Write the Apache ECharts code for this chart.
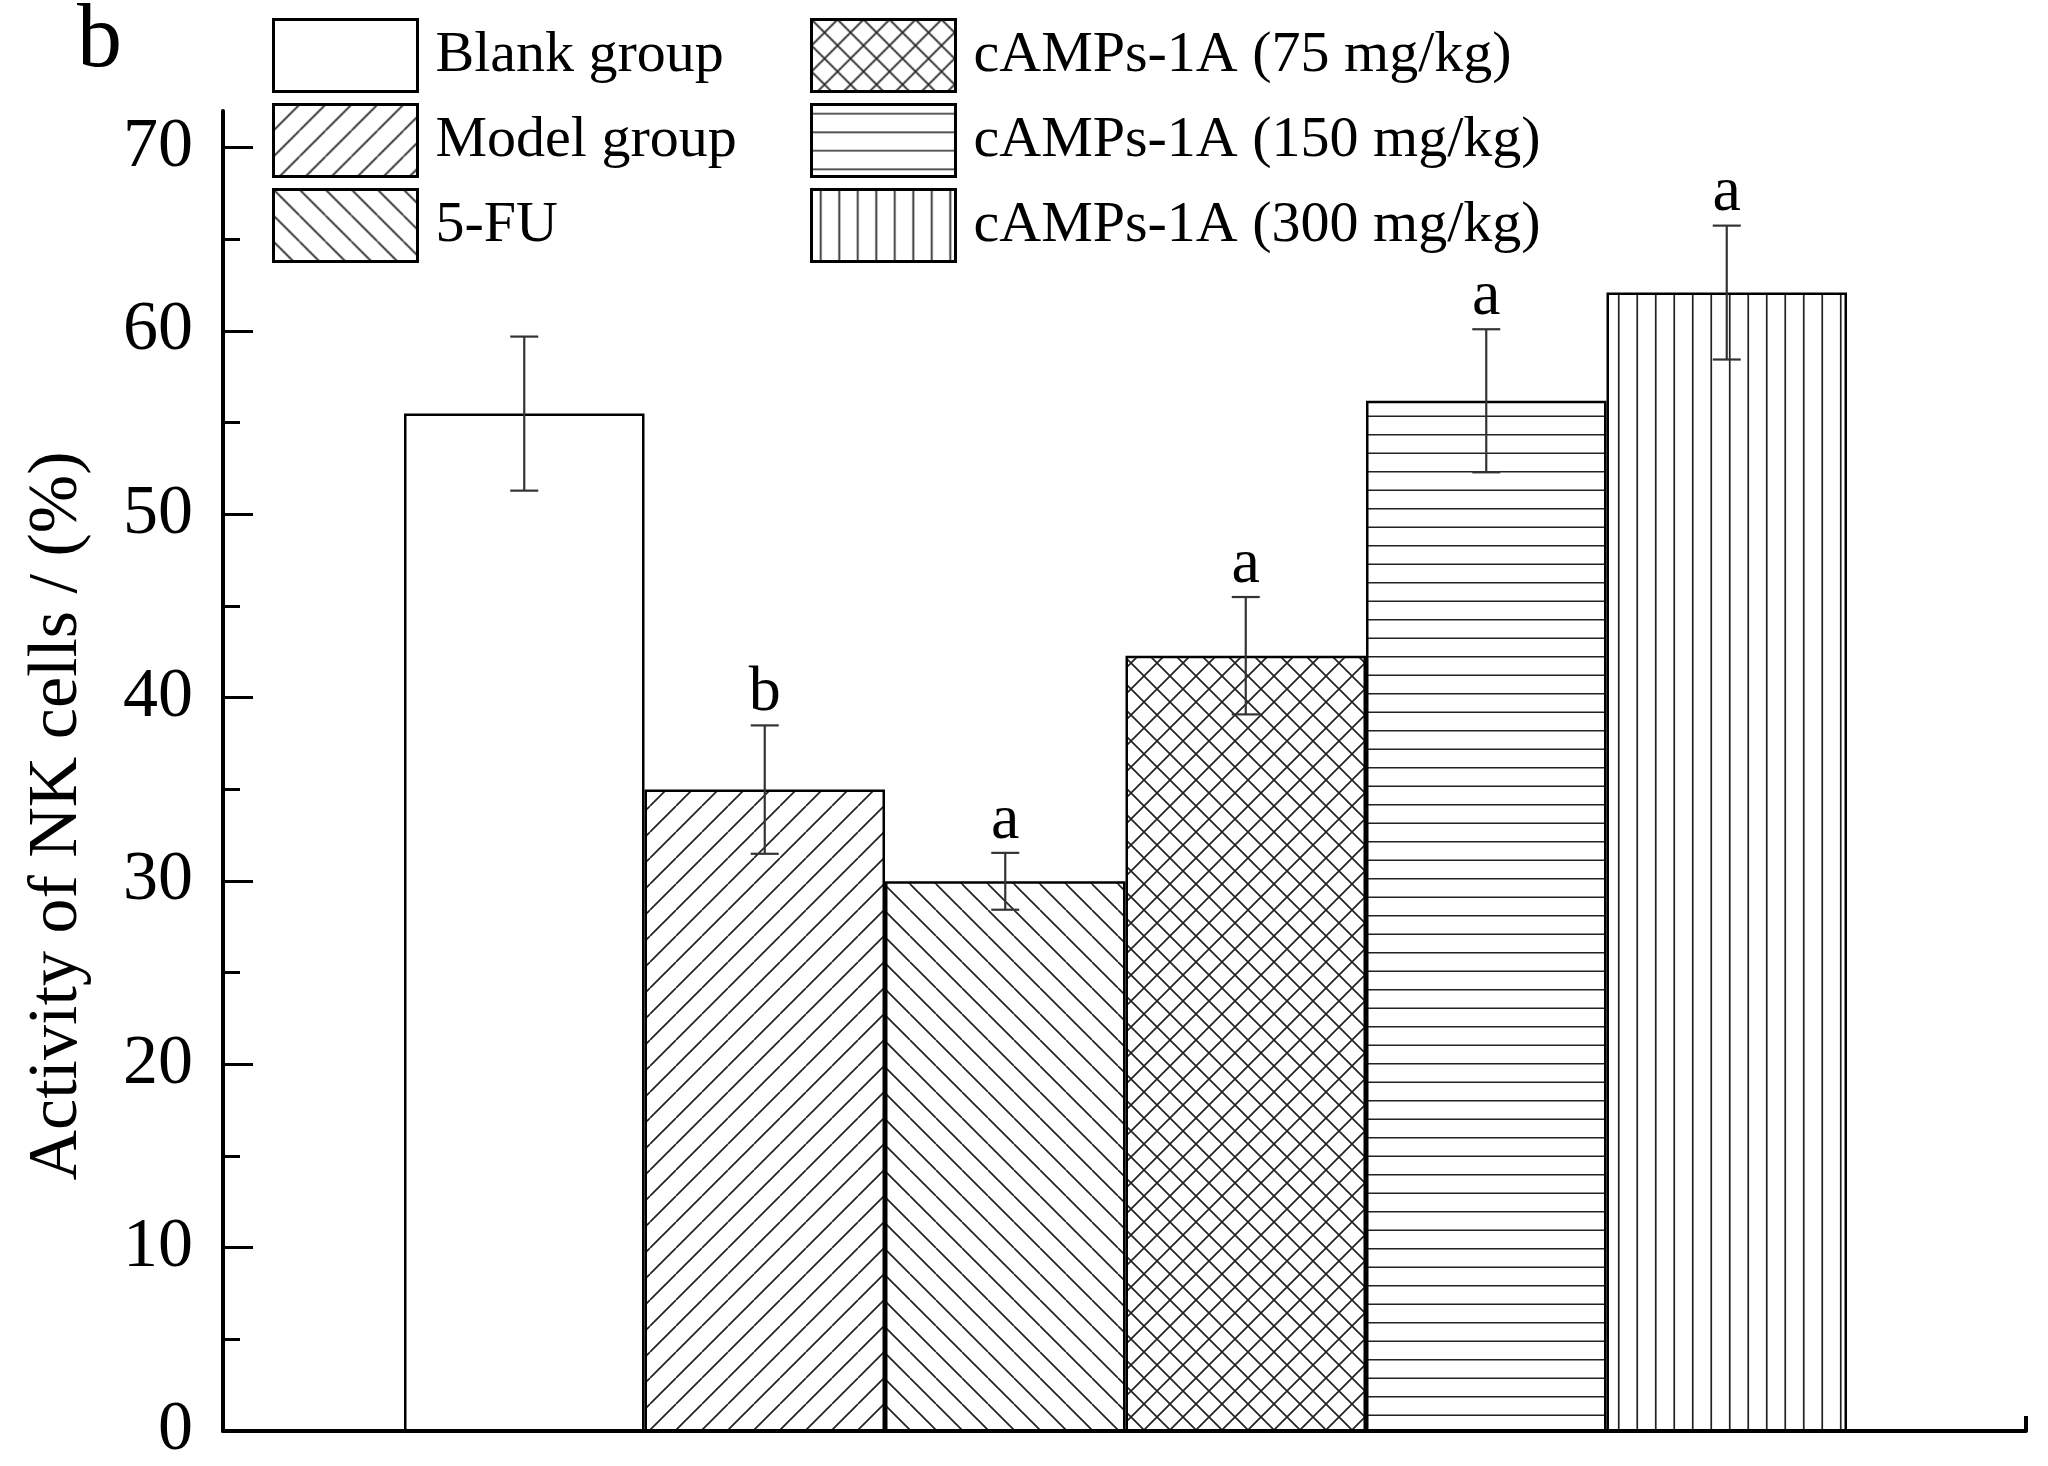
<!DOCTYPE html>
<html><head><meta charset="utf-8">
<script src="https://cdn.jsdelivr.net/npm/echarts@6/dist/echarts.min.js"></script>
<style>html,body{margin:0;padding:0;background:#fff}#c{width:2048px;height:1466px}</style>
</head><body><div id="c"></div>
<script>
// ---- data ----
const categories = ['Blank group', 'Model group', '5-FU', 'cAMPs-1A (75 mg/kg)', 'cAMPs-1A (150 mg/kg)', 'cAMPs-1A (300 mg/kg)'];
const values = [55.5, 35.0, 30.0, 42.3, 56.2, 62.1];
const errors = [4.2, 3.5, 1.55, 3.2, 3.9, 3.65];
const sigLabels = ['', 'b', 'a', 'a', 'a', 'a'];
const yTicks = [0, 10, 20, 30, 40, 50, 60, 70];
const yMinorTicks = [5, 15, 25, 35, 45, 55, 65];
const yMax = 72;
const yTitle = 'Activity of NK cells / (%)';
const panelLabel = 'b';

// ---- styles ----
const FONT = '"Liberation Serif", "Times New Roman", serif';
const patternTypes = ['none', 'diagUp', 'diagDown', 'cross', 'horiz', 'vert'];

function makePattern(type) {
  if (type === 'none') return '#ffffff';
  const c = document.createElement('canvas');
  const s = (type === 'horiz' || type === 'vert') ? 37 : 26;
  c.width = s; c.height = s;
  const ctx = c.getContext('2d');
  ctx.fillStyle = '#fff'; ctx.fillRect(0, 0, s, s);
  ctx.strokeStyle = '#222'; ctx.lineWidth = 1.7;
  ctx.beginPath();
  if (type === 'horiz') [9.25, 27.75].forEach(y => { ctx.moveTo(0, y); ctx.lineTo(s, y); });
  if (type === 'vert') [9.25, 27.75].forEach(x => { ctx.moveTo(x, 0); ctx.lineTo(x, s); });
  if (type === 'diagUp' || type === 'cross') for (let k = -1; k <= 1; k++) { ctx.moveTo(k * s, s); ctx.lineTo(k * s + s, 0); }
  if (type === 'diagDown' || type === 'cross') for (let k = -1; k <= 1; k++) { ctx.moveTo(k * s, 0); ctx.lineTo(k * s + s, s); }
  ctx.stroke();
  return { image: c, repeat: 'repeat' };
}

const chart = echarts.init(document.getElementById('c'), null, { renderer: 'canvas' });

const barSeries = categories.map((name, i) => ({
  name: name,
  type: 'bar',
  xAxisIndex: 1, yAxisIndex: 1,
  barWidth: '100%', barGap: '-100%', barCategoryGap: '0%',
  data: values.map((v, j) => (j === i ? v : '-')),
  itemStyle: { color: makePattern(patternTypes[i]), borderColor: '#000', borderWidth: 2.5 },
  emphasis: { disabled: true },
  z: 2
}));

const errSeries = {
  type: 'custom',
  xAxisIndex: 1, yAxisIndex: 1,
  z: 5,
  data: values.map((v, i) => [i, v, errors[i]]),
  renderItem: function (params, api) {
    const idx = api.value(0), v = api.value(1), e = api.value(2);
    const x = api.coord([idx, v])[0];
    const yTop = api.coord([idx, v + e])[1];
    const yBot = api.coord([idx, v - e])[1];
    const cap = 14;
    const ls = { stroke: '#333', lineWidth: 2.2 };
    const children = [
      { type: 'line', shape: { x1: x, y1: yTop, x2: x, y2: yBot }, style: ls },
      { type: 'line', shape: { x1: x - cap, y1: yTop, x2: x + cap, y2: yTop }, style: ls },
      { type: 'line', shape: { x1: x - cap, y1: yBot, x2: x + cap, y2: yBot }, style: ls }
    ];
    const lab = sigLabels[params.dataIndex];
    if (lab) children.push({
      type: 'text',
      style: { text: lab, x: x, y: yTop, align: 'center', verticalAlign: 'bottom', fontSize: 64, fontFamily: FONT, fill: '#000' }
    });
    return { type: 'group', children: children };
  }
};

const legendCommon = {
  orient: 'vertical', itemWidth: 144, itemHeight: 72, itemGap: 10, icon: 'rect', padding: 0,
  selectedMode: false,
  textStyle: { fontSize: 58, fontFamily: FONT, color: '#000', padding: [0, 0, 0, 13] },
  itemStyle: { borderColor: '#000', borderWidth: 3 }
};

chart.setOption({
  animation: false,
  backgroundColor: '#fff',
  title: { text: panelLabel, left: 72, top: -8, textStyle: { fontSize: 90, fontFamily: FONT, fontWeight: 'normal', color: '#000' } },
  legend: [
    Object.assign({ data: categories.slice(0, 3), left: 272, top: 18 }, legendCommon),
    Object.assign({ data: categories.slice(3), left: 810, top: 18 }, legendCommon)
  ],
  grid: [
    { left: 223, right: 22, top: 111, bottom: 34.5 },
    { left: 404, right: 201, top: 111, bottom: 34.5 }
  ],
  xAxis: [
    { type: 'value', gridIndex: 0, min: 0, max: 1, position: 'bottom',
      axisLine: { show: true, lineStyle: { color: '#000', width: 4 } },
      axisTick: { show: true, inside: true, length: 15, customValues: [1], lineStyle: { color: '#000', width: 4 } },
      axisLabel: { show: false }, splitLine: { show: false } },
    { type: 'category', gridIndex: 1, data: categories, show: false, boundaryGap: true }
  ],
  yAxis: [
    { type: 'value', gridIndex: 0, min: 0, max: yMax, position: 'left',
      axisLine: { show: true, lineStyle: { color: '#000', width: 4 } },
      axisTick: { show: true, inside: true, length: 30, customValues: yTicks, lineStyle: { color: '#000', width: 3 } },
      axisLabel: { customValues: yTicks, fontSize: 70, fontFamily: FONT, color: '#000', margin: 30 },
      splitLine: { show: false },
      name: yTitle, nameLocation: 'middle', nameGap: 130,
      nameTextStyle: { fontSize: 70, fontFamily: FONT, color: '#000', padding: [0, 90, 0, 0] } },
    { type: 'value', gridIndex: 1, min: 0, max: yMax, show: false },
    { type: 'value', gridIndex: 0, min: 0, max: yMax, position: 'left',
      axisLine: { show: false },
      axisTick: { show: true, inside: true, length: 17, customValues: yMinorTicks, lineStyle: { color: '#000', width: 3 } },
      axisLabel: { show: false }, splitLine: { show: false } }
  ],
  series: barSeries.concat([errSeries])
});
</script>
</body></html>
